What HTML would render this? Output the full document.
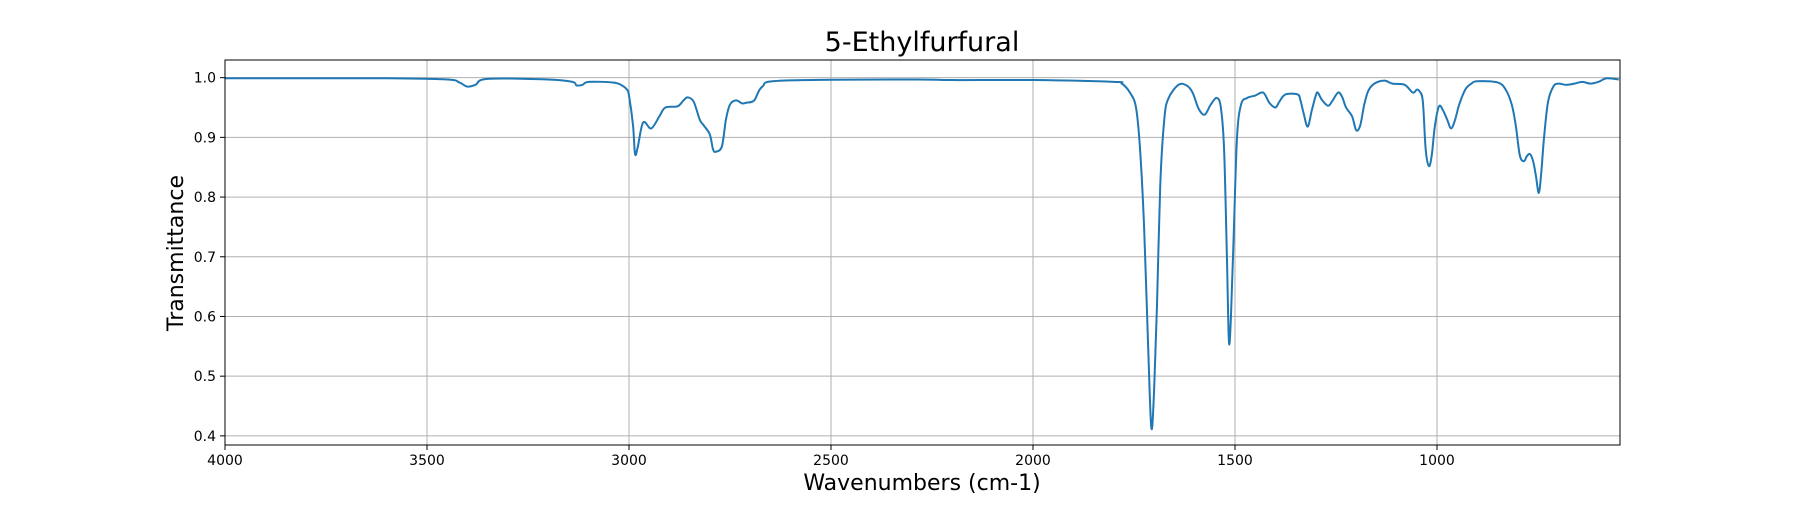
<!DOCTYPE html>
<html><head><meta charset="utf-8"><style>
body{margin:0;background:#fff}
svg text{font-family:"DejaVu Sans","Liberation Sans",sans-serif}
</style></head><body>
<svg id="chart" width="1800" height="500" xmlns="http://www.w3.org/2000/svg">
<rect width="1800" height="500" fill="#fff"/>
<g id="grid"></g>
<g id="ticks"></g>
<path id="line" fill="none" stroke="#1f77b4" stroke-width="2" stroke-linejoin="round"/>
<rect x="225" y="60" width="1395" height="385" fill="none" stroke="#000" stroke-width="1"/>
<text x="922" y="51" font-size="27" text-anchor="middle">5-Ethylfurfural</text>
<text x="922" y="490" font-size="22" text-anchor="middle">Wavenumbers (cm-1)</text>
<text transform="translate(183,253) rotate(-90)" font-size="22" text-anchor="middle">Transmittance</text>
</svg>
<script>
const wavenumbers=[4000,3800,3600,3450,3420,3400,3380,3350,3200,3140,3130,3115,3100,3040,3020,3005,3000,2990,2985,2978,2965,2945,2925,2910,2880,2865,2855,2840,2825,2815,2800,2792,2785,2770,2760,2750,2735,2720,2710,2690,2670,2620,2300,2200,2000,1800,1780,1760,1745,1735,1725,1715,1707,1700,1693,1685,1675,1665,1640,1620,1605,1590,1575,1560,1545,1535,1527,1520,1515,1510,1503,1495,1485,1470,1450,1430,1415,1400,1390,1375,1345,1338,1330,1320,1310,1300,1295,1285,1270,1260,1245,1235,1225,1210,1200,1190,1180,1170,1155,1130,1110,1080,1060,1050,1043,1035,1028,1020,1013,1005,995,985,975,965,955,945,930,915,900,850,830,815,805,795,785,778,770,762,755,748,742,735,725,712,700,680,660,640,620,600,580,550];
const transmittance=[0.999,0.999,0.999,0.997,0.992,0.985,0.988,0.998,0.997,0.993,0.987,0.988,0.993,0.992,0.988,0.98,0.97,0.92,0.872,0.885,0.925,0.915,0.935,0.95,0.952,0.962,0.967,0.96,0.93,0.92,0.905,0.88,0.876,0.885,0.93,0.955,0.962,0.957,0.958,0.962,0.985,0.995,0.997,0.996,0.996,0.993,0.99,0.975,0.95,0.88,0.75,0.55,0.413,0.48,0.62,0.82,0.93,0.965,0.988,0.987,0.975,0.948,0.938,0.955,0.966,0.95,0.88,0.7,0.558,0.6,0.74,0.9,0.955,0.966,0.97,0.975,0.958,0.95,0.96,0.972,0.972,0.962,0.94,0.918,0.945,0.97,0.975,0.963,0.953,0.96,0.975,0.968,0.95,0.935,0.912,0.92,0.955,0.978,0.99,0.995,0.99,0.988,0.975,0.98,0.977,0.96,0.88,0.852,0.87,0.92,0.952,0.945,0.93,0.915,0.93,0.955,0.98,0.99,0.994,0.992,0.98,0.955,0.92,0.87,0.86,0.868,0.872,0.86,0.835,0.807,0.84,0.9,0.96,0.985,0.99,0.988,0.99,0.993,0.99,0.993,0.999,0.997];
const xTicks=[4000,3500,3000,2500,2000,1500,1000];
const yTicks=[0.4,0.5,0.6,0.7,0.8,0.9,1.0];
const X0=225,X1=1620,Y0=60,Y1=445,xMin=547,xMax=4000,yMin=0.3847,yMax=1.0296;
const xs=w=>X0+(xMax-w)/(xMax-xMin)*(X1-X0);
const ys=t=>Y1-(t-yMin)/(yMax-yMin)*(Y1-Y0);
const NS='http://www.w3.org/2000/svg';
const grid=document.getElementById('grid'),ticks=document.getElementById('ticks');
function mk(tag,attrs,parent){const e=document.createElementNS(NS,tag);for(const k in attrs)e.setAttribute(k,attrs[k]);parent.appendChild(e);return e;}
xTicks.forEach(v=>{const x=xs(v);
const g=mk('line',{x1:x,x2:x,y1:Y0,y2:Y1,stroke:'#b0b0b0','stroke-width':1},grid);


const t=mk('line',{x1:x,x2:x,y1:Y1,y2:Y1+5,stroke:'#000'},ticks);


const l=mk('text',{x:x,y:Y1+20,'font-size':14,'text-anchor':'middle'},ticks);l.textContent=v;


});
yTicks.forEach(v=>{const y=ys(v);
const g=mk('line',{x1:X0,x2:X1,y1:y,y2:y,stroke:'#b0b0b0','stroke-width':1},grid);


const t=mk('line',{x1:X0-5,x2:X0,y1:y,y2:y,stroke:'#000'},ticks);


const l=mk('text',{x:X0-9,y:y+5,'font-size':14,'text-anchor':'end'},ticks);l.textContent=v.toFixed(1);


});
const pts=wavenumbers.map((w,i)=>[xs(w),ys(transmittance[i])]);
let d='M'+pts[0][0]+','+pts[0][1];
for(let i=0;i<pts.length-1;i++){const p0=pts[Math.max(0,i-1)],p1=pts[i],p2=pts[i+1],p3=pts[Math.min(pts.length-1,i+2)];
d+=' C'+(p1[0]+(p2[0]-p0[0])/6)+','+(p1[1]+(p2[1]-p0[1])/6)+' '+(p2[0]-(p3[0]-p1[0])/6)+','+(p2[1]-(p3[1]-p1[1])/6)+' '+p2[0]+','+p2[1];}
document.getElementById('line').setAttribute('d',d);
</script>
</body></html>
